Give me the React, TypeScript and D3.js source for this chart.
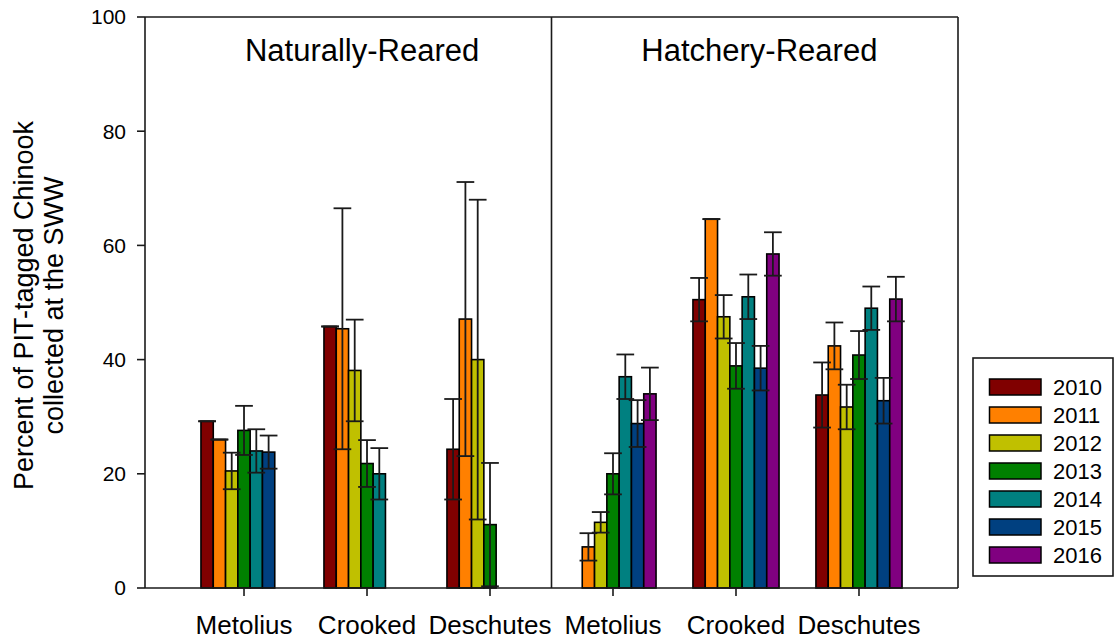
import React from "react";
import * as d3 from "d3";

// Survey years (one bar per year in each group)
const years = ["2010", "2011", "2012", "2013", "2014", "2015", "2016"];
// Rearing origin panels and the river groups inside each
const rearing = ["Naturally-Reared", "Hatchery-Reared"];
const rivers = ["Metolius", "Crooked", "Deschutes"];
const yTicks = [0, 20, 40, 60, 80, 100];

// Percent collected, per year, over the six groups
// (Natural: Metolius, Crooked, Deschutes; Hatchery: Metolius, Crooked, Deschutes)
const pct2010 = [29.2, 45.8, 24.3, null, 50.5, 33.8];
const pct2011 = [26.0, 45.4, 47.1, 7.2, 64.6, 42.4];
const pct2012 = [20.5, 38.1, 40.0, 11.5, 47.5, 31.7];
const pct2013 = [27.6, 21.8, 11.1, 20.0, 38.9, 40.8];
const pct2014 = [24.0, 20.0, null, 37.0, 51.0, 49.0];
const pct2015 = [23.8, null, null, 28.8, 38.5, 32.8];
const pct2016 = [null, null, null, 34.0, 58.5, 50.6];

// Half-width of the error bars
const err2010 = [0, 0, 8.8, null, 3.8, 5.7];
const err2011 = [0, 21.1, 24.0, 2.4, 0, 4.1];
const err2012 = [3.2, 8.9, 28.0, 1.8, 3.8, 3.9];
const err2013 = [4.3, 4.1, 10.8, 3.6, 4.0, 4.2];
const err2014 = [3.8, 4.5, null, 3.9, 3.9, 3.8];
const err2015 = [2.9, null, null, 4.1, 3.9, 4.0];
const err2016 = [null, null, null, 4.6, 3.8, 3.9];

const yearColors = ["#800000", "#FF8000", "#C0C000", "#008000", "#008080", "#004080", "#800080"];

const values = [pct2010, pct2011, pct2012, pct2013, pct2014, pct2015, pct2016];
const errors = [err2010, err2011, err2012, err2013, err2014, err2015, err2016];

const W = 1115;
const H = 639;
const left = 145;
const right = 958;
const top = 17;
const bottom = 588;
const FONT = "'Liberation Sans', Arial, sans-serif";
const INK = "#1a1a1a";

export default function App() {
  const groups = d3.range(rivers.length * rearing.length);
  const groupLabels = rearing.flatMap(() => rivers);

  const x0 = d3
    .scaleBand<number>()
    .domain(groups)
    .range([left, right])
    .paddingInner(0)
    .paddingOuter(0.305);
  const step = x0.step();
  const x1 = d3
    .scaleBand<string>()
    .domain(years)
    .range([-0.35 * step, 0.35 * step])
    .padding(0);
  const y = d3.scaleLinear().domain([0, 100]).range([bottom, top]);

  const center = (g: number) => (x0(g) as number) + x0.bandwidth() / 2;
  const bw = x1.bandwidth();
  const capW = bw * 1.44;

  const bars: { g: number; yi: number; v: number; e: number | null }[] = [];
  years.forEach((yr, yi) => {
    groups.forEach((g) => {
      const v = values[yi][g];
      if (v == null) return;
      bars.push({ g, yi, v, e: errors[yi][g] });
    });
  });

  const divider = (center(2) + center(3)) / 2;
  const titlePos = [1.96, 5.19];
  const xAt = (k: number) => center(0) + (k - 1) * step;

  const legendX = 973;
  const legendY = 358;
  const legendW = 140;
  const legendH = 218;

  return (
    <svg
      width={W}
      height={H}
      style={{ position: "absolute", left: 0, top: 0, background: "#fff" }}
      fontFamily={FONT}
    >
      {/* bars */}
      {bars.map((b, i) => {
        const x = center(b.g) + (x1(years[b.yi]) as number);
        return (
          <rect
            key={"b" + i}
            x={x}
            y={y(b.v)}
            width={bw}
            height={y(0) - y(b.v)}
            fill={yearColors[b.yi]}
            stroke="#000"
            strokeWidth={1.6}
          />
        );
      })}

      {/* error bars */}
      {bars.map((b, i) => {
        if (b.e == null) return null;
        const cx = center(b.g) + (x1(years[b.yi]) as number) + bw / 2;
        const hi = y(b.v + b.e);
        const lo = y(Math.max(0, b.v - b.e));
        return (
          <g key={"e" + i} stroke={INK} strokeWidth={1.8}>
            <line x1={cx} x2={cx} y1={hi} y2={lo} />
            <line x1={cx - capW / 2} x2={cx + capW / 2} y1={hi} y2={hi} />
            <line x1={cx - capW / 2} x2={cx + capW / 2} y1={lo} y2={lo} />
          </g>
        );
      })}

      {/* frame */}
      <g stroke={INK} strokeWidth={1.6} fill="none">
        <line x1={left} x2={right} y1={top} y2={top} />
        <line x1={left} x2={right} y1={bottom} y2={bottom} />
        <line x1={left} x2={left} y1={top} y2={bottom} />
        <line x1={right} x2={right} y1={top} y2={bottom} />
        <line x1={divider} x2={divider} y1={top} y2={bottom} />
      </g>

      {/* y axis ticks and labels */}
      {yTicks.map((t) => (
        <g key={"y" + t}>
          <line x1={left - 8} x2={left} y1={y(t)} y2={y(t)} stroke={INK} strokeWidth={1.6} />
          <text x={126} y={y(t)} dy="0.35em" textAnchor="end" fontSize={21} fill="#000">
            {t}
          </text>
        </g>
      ))}

      {/* x axis ticks and labels */}
      {groups.map((g) => (
        <g key={"x" + g}>
          <line x1={center(g)} x2={center(g)} y1={bottom} y2={bottom + 8} stroke={INK} strokeWidth={1.6} />
          <text x={center(g)} y={634} textAnchor="middle" fontSize={26} fill="#000">
            {groupLabels[g]}
          </text>
        </g>
      ))}

      {/* panel titles */}
      {rearing.map((r, i) => (
        <text key={r} x={xAt(titlePos[i])} y={61} textAnchor="middle" fontSize={31} fill="#000">
          {r}
        </text>
      ))}

      {/* y axis title */}
      <g transform={`translate(0, ${(top + bottom) / 2 + 3}) rotate(-90)`}>
        <text x={0} y={33} textAnchor="middle" fontSize={27} fill="#000">
          Percent of PIT-tagged Chinook
        </text>
        <text x={0} y={63} textAnchor="middle" fontSize={27} fill="#000">
          collected at the SWW
        </text>
      </g>

      {/* legend */}
      <rect x={legendX} y={legendY} width={legendW} height={legendH} fill="#fff" stroke={INK} strokeWidth={1.6} />
      {years.map((yr, i) => {
        const cy = 387 + i * 28;
        return (
          <g key={"l" + yr}>
            <rect x={989.5} y={cy - 8} width={51.5} height={16} fill={yearColors[i]} stroke="#000" strokeWidth={1.5} />
            <text x={1053} y={cy + 8} fontSize={22} fill="#000">
              {yr}
            </text>
          </g>
        );
      })}
    </svg>
  );
}
